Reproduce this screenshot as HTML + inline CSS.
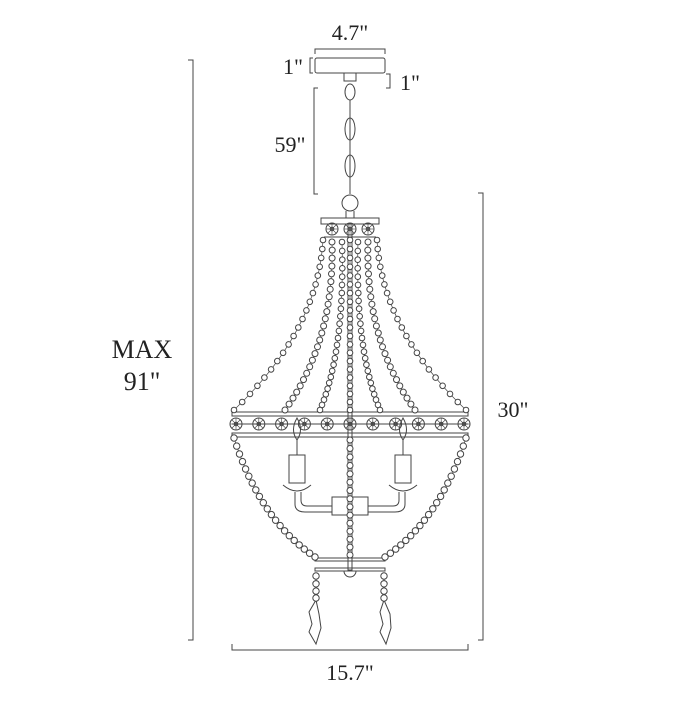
<!DOCTYPE html>
<html><head><style>
body{margin:0;background:#fff}
svg text{font-family:"Liberation Serif",serif;fill:#222}
</style></head><body>
<svg id="s" width="700" height="700" viewBox="0 0 700 700" xmlns="http://www.w3.org/2000/svg" fill="none" stroke="#444" stroke-width="1">
<path d="M188 60H193V640H188"/>
<text x="142" y="358" font-size="26" text-anchor="middle" stroke="none">MAX</text>
<text x="142" y="390" font-size="26" text-anchor="middle" stroke="none">91"</text>
<path d="M315 54V49H385V54"/>
<text x="350" y="40" font-size="22" text-anchor="middle" stroke="none">4.7"</text>
<path d="M313 58H310V73H313"/>
<text x="293" y="74" font-size="22" text-anchor="middle" stroke="none">1"</text>
<path d="M386 74H390V88H386"/>
<text x="410" y="90" font-size="22" text-anchor="middle" stroke="none">1"</text>
<path d="M318 88H314V194H318"/>
<text x="290" y="152" font-size="22" text-anchor="middle" stroke="none">59"</text>
<path d="M478 193H483V640H478"/>
<text x="513" y="417" font-size="22" text-anchor="middle" stroke="none">30"</text>
<path d="M232 644V650H468V644"/>
<text x="350" y="680" font-size="22" text-anchor="middle" stroke="none">15.7"</text>
<rect x="315" y="58" width="70" height="15" rx="2"/>
<rect x="344" y="73" width="12" height="8"/>
<ellipse cx="350" cy="92" rx="5" ry="8"/>
<ellipse cx="350" cy="129" rx="5" ry="11"/>
<ellipse cx="350" cy="166" rx="5" ry="11"/>
<line x1="350" y1="100" x2="350" y2="194"/>
<circle cx="350" cy="203" r="8"/>
<path d="M346 211V218M354 211V218"/>
<rect x="321" y="218" width="58" height="6"/>
<line x1="324" y1="237" x2="376" y2="237"/>
<rect x="348" y="224" width="4" height="346"/>
<rect x="232" y="412" width="236" height="4"/>
<rect x="232" y="433" width="236" height="4"/>
<line x1="232" y1="424" x2="468" y2="424"/>
<!-- candles -->
<path d="M297 455V440Q290 430 297 418Q304 430 297 440Z"/>
<rect x="289" y="455" width="16" height="28"/>
<path d="M283 485Q297 497 311 485"/>
<path d="M295 492V504Q295 512 305 512H332M301 492V500Q301 506 307 506H332"/>
<path d="M403 455V440Q396 430 403 418Q410 430 403 440Z"/>
<rect x="395" y="455" width="16" height="28"/>
<path d="M389 485Q403 497 417 485"/>
<path d="M405 492V504Q405 512 395 512H368M399 492V500Q399 506 393 506H368"/>
<rect x="332" y="497" width="36" height="18"/>
<rect x="315" y="558" width="70" height="3"/>
<rect x="315" y="568" width="70" height="3"/>
<path d="M344 571A6 6 0 0 0 356 571"/>
<path d="M316 573V600M384 573V600"/>
<path d="M316 600L309 612L312 624L309 632L316 644L321 628L319 614Z"/>
<path d="M384 600L380 612L383 624L380 632L386 644L391 628L390 614Z"/>
<g id="beads"></g>
</svg>
<script>
const g=document.getElementById('beads');
function el(t,a){const e=document.createElementNS('http://www.w3.org/2000/svg',t);for(const k in a)e.setAttribute(k,a[k]);g.appendChild(e);return e;}
function med(x,y,r){el('circle',{cx:x,cy:y,r:r});el('circle',{cx:x,cy:y,r:r*0.3});
 for(let i=0;i<4;i++){const a=i*Math.PI/4;el('line',{x1:x-r*Math.cos(a),y1:y-r*Math.sin(a),x2:x+r*Math.cos(a),y2:y+r*Math.sin(a),'stroke-width':0.6});}}
[332,350,368].forEach(x=>med(x,229,6));
for(let i=0;i<11;i++)med(236+i*22.8,424,6);
function chain(p0,p1,p2,n,r){
 const path=el('path',{d:`M${p0[0]} ${p0[1]}Q${p1[0]} ${p1[1]} ${p2[0]} ${p2[1]}`,'stroke-width':0.7});
 for(let i=0;i<=n;i++){const t=i/n,u=1-t;
 const x=u*u*p0[0]+2*u*t*p1[0]+t*t*p2[0],y=u*u*p0[1]+2*u*t*p1[1]+t*t*p2[1];
 const c=el('circle',{cx:x.toFixed(1),cy:y.toFixed(1),r:r});c.setAttribute('fill','#fff');}}
chain([323,240],[318,330],[234,410],20,2.8);
chain([377,240],[382,330],[466,410],20,2.8);
chain([332,242],[335,340],[285,410],24,3);
chain([368,242],[365,340],[415,410],24,3);
chain([342,242],[345,350],[320,410],24,2.8);
chain([358,242],[355,350],[380,410],24,2.8);
chain([350,240],[350,330],[350,410],20,2.8);
chain([234,438],[260,520],[315,557],20,3.2);
chain([466,438],[440,520],[385,557],20,3.2);
chain([350,440],[350,500],[350,555],14,3);
chain([316,576],[316,588],[316,598],3,3.2);
chain([384,576],[384,588],[384,598],3,3.2);
</script>
</body></html>
